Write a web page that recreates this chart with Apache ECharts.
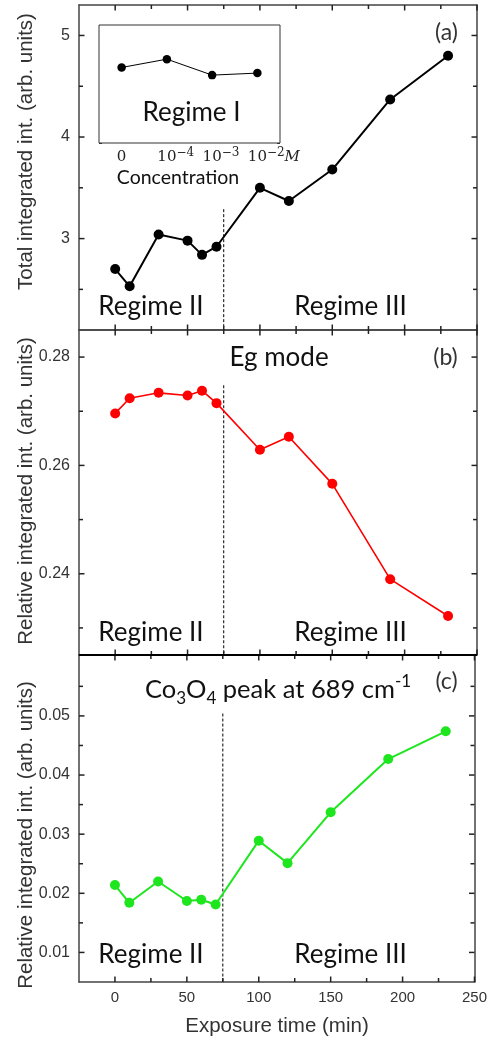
<!DOCTYPE html>
<html><head><meta charset="utf-8">
<script src="https://cdn.jsdelivr.net/npm/echarts@6/dist/echarts.min.js"></script>
<style>html,body{margin:0;padding:0;background:#fff}#c{width:490px;height:1037px}</style>
</head><body><div id="c"></div>
<script>
// ---- data ----
const time = [0, 10, 30, 50, 60, 70, 100, 120, 150, 190, 230];
const totalInt = [2.70, 2.53, 3.04, 2.98, 2.84, 2.92, 3.50, 3.37, 3.68, 4.37, 4.80];
const egMode = [0.2696, 0.2724, 0.2734, 0.2729, 0.2738, 0.2715, 0.2629, 0.2653, 0.2566, 0.2390, 0.2322];
const co3o4 = [0.0214, 0.0184, 0.0220, 0.0187, 0.0189, 0.0181, 0.0289, 0.0251, 0.0337, 0.0427, 0.0474];
const concLabels = ['0', '10^-4', '10^-3', '10^-2'];
const regimeI = [3.36, 3.73, 3.02, 3.11];
const xMajor = [0, 50, 100, 150, 200, 250];
const xMinor = [25, 75, 125, 175, 225];
const yMajorA = [3, 4, 5], yMinorA = [2.5, 3.5, 4.5];
const yMajorB = [0.24, 0.26, 0.28], yMinorB = [0.23, 0.25, 0.27];
const yMajorC = [0.01, 0.02, 0.03, 0.04, 0.05], yMinorC = [0.015, 0.025, 0.035, 0.045, 0.055];
const regimeBoundary = 75;
const dashTop = [3.29, 0.2748, 0.0504];
const yTitles = ['Total integrated int. (arb. units)', 'Relative integrated int. (arb. units)', 'Relative integrated int. (arb. units)'];
const xTitle = 'Exposure time (min)';

// ---- layout ----
const X_MIN = -25, X_MAX = 250;
const panels = [
  {top: 5, height: 325, yMin: 2.1, yMax: 5.3, yMajor: yMajorA, yMinor: yMinorA, vals: totalInt, color: '#000000', lw: 2, sym: 10, xLab: false},
  {top: 330, height: 325, yMin: 0.225, yMax: 0.285, yMajor: yMajorB, yMinor: yMinorB, vals: egMode, color: '#ff0000', lw: 1.6, sym: 10, xLab: false},
  {top: 655, height: 327, yMin: 0.005, yMax: 0.0603, yMajor: yMajorC, yMinor: yMinorC, vals: co3o4, color: '#1ee61e', lw: 2, sym: 10, xLab: true}
];
const TICK = 'Liberation Sans';
const TXT = 'Lato';
const grids = [], xAxes = [], yAxes = [], series = [];

function xAx(grid, pos, showLab) {
  return {gridIndex: grid, type: 'value', min: X_MIN, max: X_MAX, position: pos,
    axisLine: {show: true, onZero: false, lineStyle: {color: '#444', width: 1.5}}, splitLine: {show: false},
    axisTick: {show: false},
    axisLabel: {show: showLab, customValues: xMajor, fontFamily: TICK, fontSize: 15, color: '#333', margin: 8}};
}
function yAx(grid, pos, p, showLab) {
  return {gridIndex: grid, type: 'value', min: p.yMin, max: p.yMax, position: pos,
    axisLine: {show: true, onZero: false, lineStyle: {color: '#444', width: 1.5}}, splitLine: {show: false},
    axisTick: {show: false},
    axisLabel: {show: showLab, customValues: p.yMajor, fontFamily: TICK, fontSize: 16, color: '#333', margin: 9}};
}

// inward tick marks on all four sides, placed through the axes' own scales
function tickSeries(i, p) {
  const data = [];
  xMajor.forEach(v => data.push([v, p.yMin, 0]));
  xMinor.forEach(v => data.push([v, p.yMin, 1]));
  p.yMajor.forEach(v => data.push([X_MIN, v, 2]));
  p.yMinor.forEach(v => data.push([X_MIN, v, 3]));
  return {type: 'custom', xAxisIndex: 2 * i, yAxisIndex: 2 * i, silent: true, z: 6, clip: false,
    data: data,
    renderItem: function (params, api) {
      const cs = params.coordSys;
      const kind = api.value(2);
      const pt = api.coord([api.value(0), api.value(1)]);
      const st = {stroke: '#222', lineWidth: 1.5};
      const len = (kind === 0 || kind === 2) ? 5.5 : 4;
      if (kind < 2) {
        const x = pt[0], yb = cs.y + cs.height, yt = cs.y;
        return {type: 'group', children: [
          {type: 'line', shape: {x1: x, y1: yb, x2: x, y2: yb - len}, style: st},
          {type: 'line', shape: {x1: x, y1: yt, x2: x, y2: yt + len}, style: st}]};
      }
      const y = pt[1], xl = cs.x, xr = cs.x + cs.width;
      return {type: 'group', children: [
        {type: 'line', shape: {x1: xl, y1: y, x2: xl + len, y2: y}, style: st},
        {type: 'line', shape: {x1: xr, y1: y, x2: xr - len, y2: y}, style: st}]};
    }};
}

panels.forEach((p, i) => {
  grids[i] = {left: 79, right: 13, top: p.top, height: p.height, show: false};
  xAxes[2 * i] = xAx(i, 'bottom', p.xLab);
  xAxes[2 * i + 1] = xAx(i, 'top', false);
  yAxes[2 * i] = yAx(i, 'left', p, true);
  yAxes[2 * i + 1] = yAx(i, 'right', p, false);
  series.push({type: 'line', xAxisIndex: 2 * i, yAxisIndex: 2 * i, silent: true,
    data: time.map((t, k) => [t, p.vals[k]]),
    symbol: 'circle', symbolSize: p.sym, itemStyle: {color: p.color},
    lineStyle: {color: p.color, width: p.lw}, z: 3});
  series.push({type: 'line', xAxisIndex: 2 * i, yAxisIndex: 2 * i, silent: true,
    data: [[regimeBoundary, dashTop[i]], [regimeBoundary, p.yMin]],
    symbol: 'none', lineStyle: {color: '#000', width: 1, type: [3, 2]}, z: 2});
  series.push(tickSeries(i, p));
});

// inset
grids[3] = {left: 99, top: 25, width: 181, height: 118, show: true, borderColor: '#333', borderWidth: 1, backgroundColor: '#fff', z: 1};
xAxes[6] = {gridIndex: 3, type: 'category', data: concLabels, boundaryGap: true,
  axisLine: {show: false, onZero: false}, splitLine: {show: false},
  axisTick: {show: true, inside: true, length: 3, alignWithLabel: true, lineStyle: {color: '#333'}},
  axisLabel: {margin: 4, interval: 0,
    formatter: function (v) {
      if (v.indexOf('^') < 0) return '{b|' + v + '}';
      const parts = v.split('^');
      const e = parts[1].replace('-', '\u2212');
      if (v === concLabels[concLabels.length - 1]) return '{hs|' + e + '}{hm|M}{b|' + parts[0] + '}{s|' + e + '}{m|M}';
      return '{hs|' + e + '}{b|' + parts[0] + '}{s|' + e + '}';
    },
    rich: {
      b: {fontFamily: 'DejaVu Serif', fontSize: 15, color: '#222', lineHeight: 20},
      s: {fontFamily: 'DejaVu Serif', fontSize: 12, color: '#222', lineHeight: 12, verticalAlign: 'top'},
      m: {fontFamily: 'DejaVu Serif', fontStyle: 'italic', fontSize: 15, color: '#222', lineHeight: 20},
      hs: {fontFamily: 'DejaVu Serif', fontSize: 12, color: 'rgba(0,0,0,0)', lineHeight: 12, verticalAlign: 'top'},
      hm: {fontFamily: 'DejaVu Serif', fontStyle: 'italic', fontSize: 15, color: 'rgba(0,0,0,0)', lineHeight: 20}
    }}};
yAxes[6] = {gridIndex: 3, type: 'value', min: 0, max: 5.25, interval: 1, position: 'left',
  axisLine: {show: false, onZero: false}, splitLine: {show: false}, axisLabel: {show: false},
  axisTick: {show: true, inside: true, length: 3, lineStyle: {color: '#333'}}};
yAxes[7] = {gridIndex: 3, type: 'value', min: 0, max: 5.25, interval: 1, position: 'right',
  axisLine: {show: false, onZero: false}, splitLine: {show: false}, axisLabel: {show: false},
  axisTick: {show: true, inside: true, length: 3, lineStyle: {color: '#333'}}};
series.push({type: 'line', xAxisIndex: 6, yAxisIndex: 6, silent: true, data: regimeI,
  symbol: 'circle', symbolSize: 8.5, itemStyle: {color: '#000'}, lineStyle: {color: '#000', width: 1}, z: 5});

// ---- text ----
function txt(x, y, text, size, opts) {
  return Object.assign({type: 'text', x: x, y: y, silent: true, z: 10,
    style: Object.assign({text: text, fontFamily: TXT, fontSize: size, fill: '#111', align: 'center', verticalAlign: 'middle'}, (opts && opts.style) || {})},
    (opts && opts.el) || {});
}
const regimeY = [307, 633, 955];
const graphic = [];
regimeY.forEach(y => {
  graphic.push(txt(151, y, 'Regime II', 26));
  graphic.push(txt(350.5, y, 'Regime III', 26));
});
graphic.push(txt(446.5, 33, '(a)', 23, {style: {fill: '#333'}}));
graphic.push(txt(445.5, 357.5, '(b)', 23, {style: {fill: '#333'}}));
graphic.push(txt(446.5, 682, '(c)', 23, {style: {fill: '#333'}}));
graphic.push(txt(279, 358, 'Eg mode', 26));
graphic.push({type: 'text', x: 278, y: 690, silent: true, z: 10, style: {
  text: '{n|Co}{sb|3}{n|O}{sb|4}{n| peak at 689 cm}{sp|-1}', align: 'center', verticalAlign: 'middle',
  rich: {
    n: {fontFamily: TXT, fontSize: 25.5, fill: '#111', lineHeight: 34},
    sb: {fontFamily: TXT, fontSize: 17, fill: '#111', lineHeight: 16, verticalAlign: 'bottom'},
    sp: {fontFamily: TXT, fontSize: 17, fill: '#111', lineHeight: 16, verticalAlign: 'top'}
  }}});
graphic.push(txt(191.5, 113, 'Regime I', 26));
graphic.push(txt(178, 178, 'Concentration', 19.5));
const yTitleY = [151.5, 491, 835];
yTitles.forEach((t, i) => graphic.push(txt(26, yTitleY[i], t, 20.5, {style: {fontFamily: TICK, fill: '#333'}, el: {rotation: Math.PI / 2}})));
graphic.push(txt(277, 1026.5, xTitle, 20.5, {style: {fontFamily: TICK, fill: '#333'}}));
// heavier separator between (b) and (c)
graphic.push({type: 'line', silent: true, z: 9, shape: {x1: 79, y1: 655, x2: 477, y2: 655}, style: {stroke: '#000', lineWidth: 2}});

const chart = echarts.init(document.getElementById('c'), null, {renderer: 'canvas'});
chart.setOption({animation: false, grid: grids, xAxis: xAxes, yAxis: yAxes, series: series, graphic: graphic});
</script></body></html>
